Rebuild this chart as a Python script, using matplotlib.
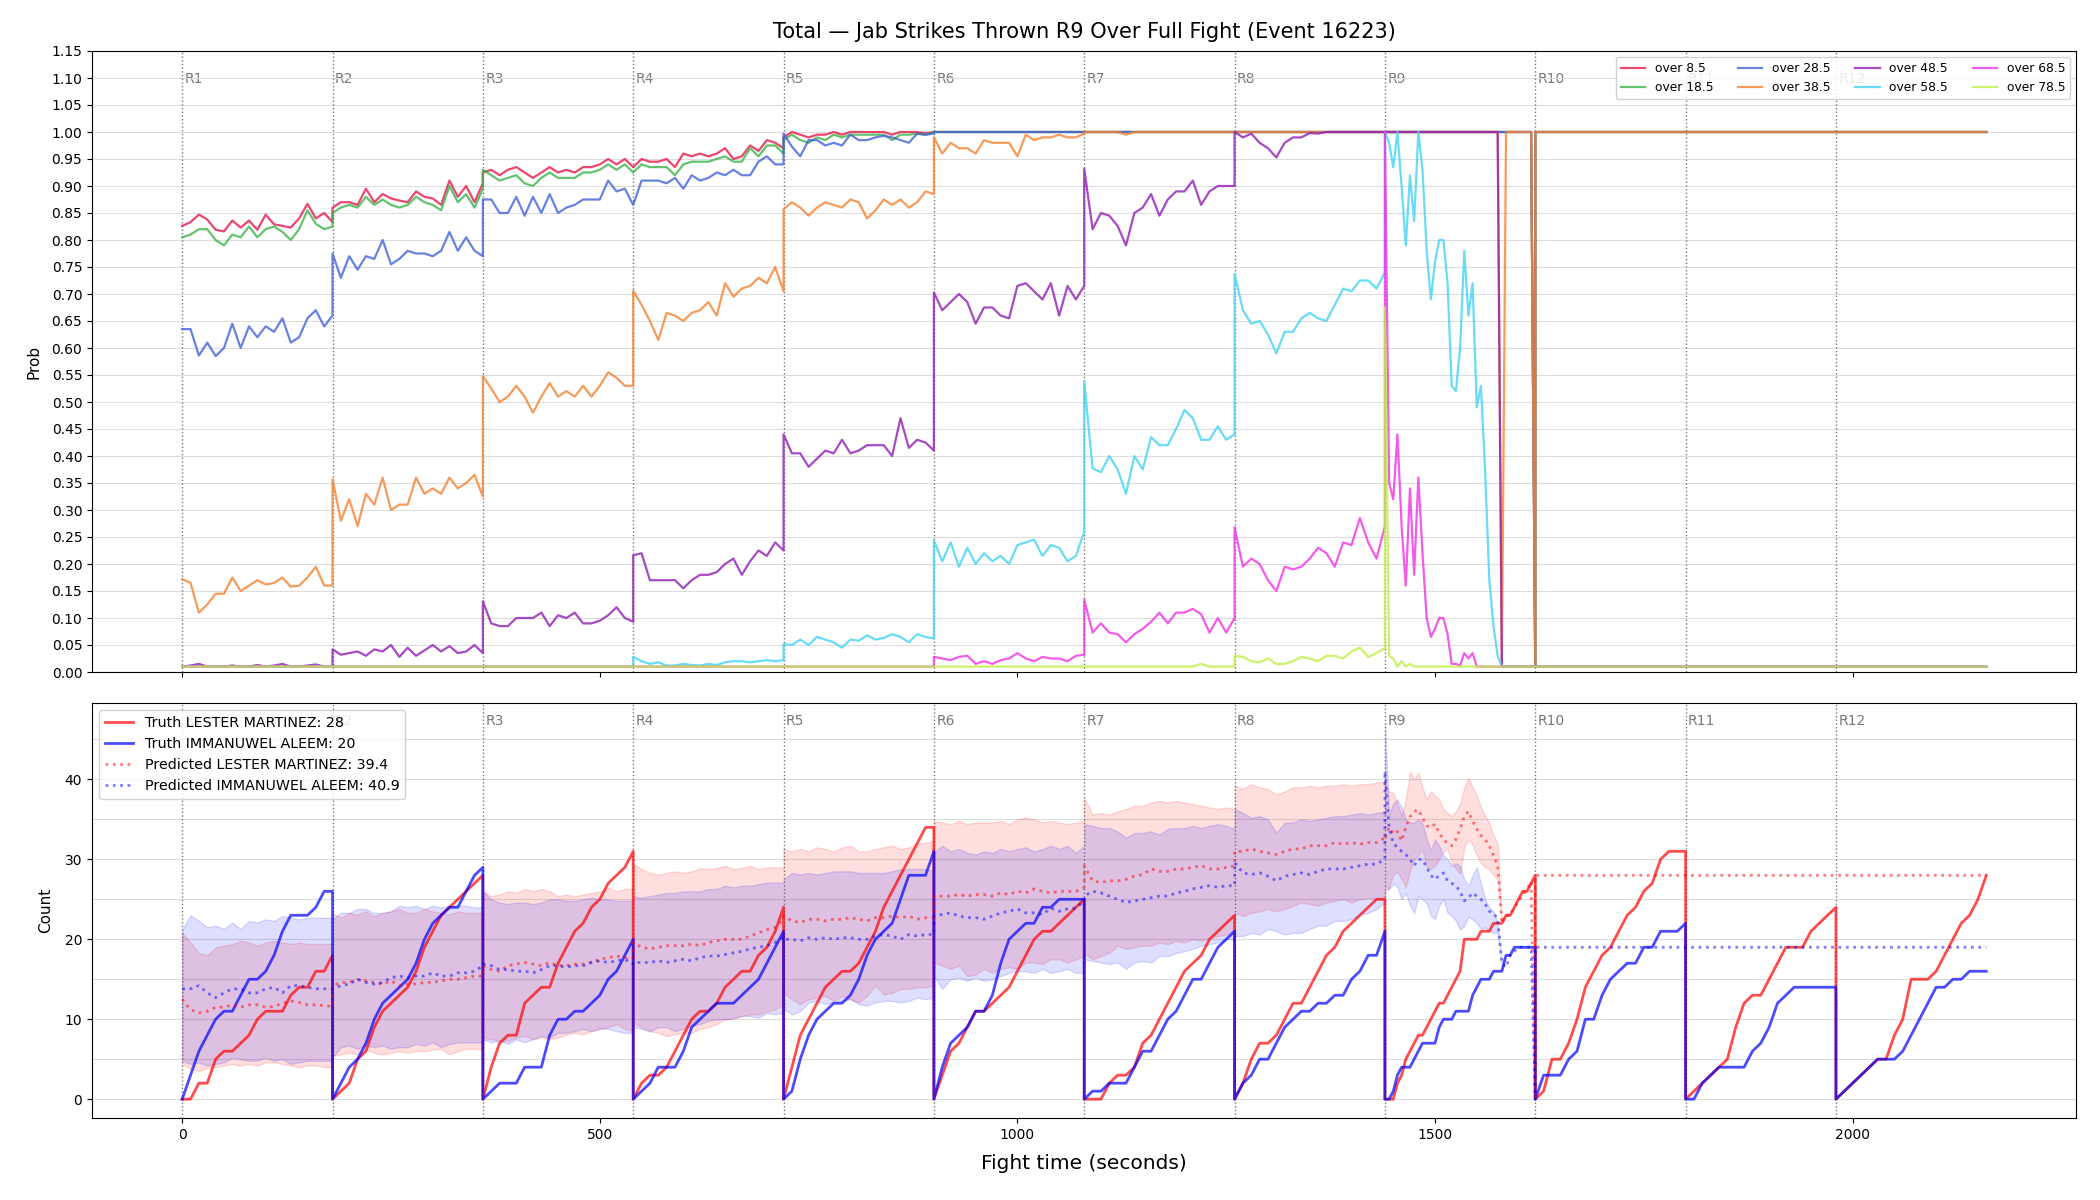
import numpy as np
import matplotlib
matplotlib.use("Agg")
import matplotlib.pyplot as plt
from matplotlib.ticker import MultipleLocator, FormatStrFormatter

NAN = float("nan")
ROUND_LEN = 180
round_names = ["R1", "R2", "R3", "R4", "R5", "R6", "R7", "R8", "R9", "R10", "R11", "R12"]
# sampling step (s) per round: R9 is read at a finer step
round_steps = [10, 10, 10, 10, 10, 10, 10, 10, 5, 10, 10, 10]

line_labels = ["over 8.5", "over 18.5", "over 28.5", "over 38.5",
               "over 48.5", "over 58.5", "over 68.5", "over 78.5"]
line_colors = ["#e6194B", "#3cb44b", "#4363d8", "#f58231",
               "#911eb4", "#42d4f4", "#f032e6", "#bfef45"]

ONE = [1.0] * 19
LOW = [0.01] * 19

p085 = [
    [0.826, 0.833, 0.847, 0.838, 0.819, 0.816, 0.836, 0.823, 0.836, 0.819, 0.847, 0.829, 0.826, 0.823, 0.840, 0.867, 0.840, 0.850, 0.833],
    [0.86, 0.87, 0.87, 0.865, 0.895, 0.87, 0.885, 0.877, 0.873, 0.87, 0.89, 0.88, 0.877, 0.865, 0.91, 0.88, 0.90, 0.87, 0.905],
    [0.925, 0.93, 0.92, 0.93, 0.935, 0.925, 0.915, 0.925, 0.935, 0.925, 0.93, 0.925, 0.935, 0.935, 0.94, 0.95, 0.94, 0.95, 0.935],
    [0.935, 0.95, 0.945, 0.945, 0.95, 0.935, 0.96, 0.955, 0.96, 0.955, 0.96, 0.97, 0.95, 0.955, 0.975, 0.965, 0.985, 0.98, 0.97],
    [0.99, 1.0, 0.995, 0.99, 0.995, 0.995, 1.0, 0.995, 1.0, 1.0, 1.0, 1.0, 1.0, 0.995, 1.0, 1.0, 1.0, 0.998, 1.0],
    ONE, ONE, ONE,
    [1.0] * 36 + [0.01],
    ONE, ONE, ONE,
]
p185 = [
    [0.805, 0.81, 0.82, 0.82, 0.80, 0.79, 0.81, 0.805, 0.825, 0.805, 0.82, 0.825, 0.815, 0.80, 0.82, 0.855, 0.83, 0.82, 0.825],
    [0.85, 0.86, 0.865, 0.86, 0.88, 0.865, 0.875, 0.865, 0.86, 0.865, 0.88, 0.87, 0.865, 0.855, 0.90, 0.87, 0.885, 0.86, 0.895],
    [0.93, 0.92, 0.91, 0.915, 0.92, 0.905, 0.90, 0.915, 0.925, 0.915, 0.915, 0.915, 0.925, 0.925, 0.93, 0.94, 0.93, 0.94, 0.925],
    [0.925, 0.94, 0.935, 0.935, 0.935, 0.92, 0.94, 0.945, 0.945, 0.945, 0.95, 0.955, 0.945, 0.945, 0.97, 0.955, 0.975, 0.975, 0.96],
    [0.985, 0.995, 0.985, 0.98, 0.99, 0.985, 0.995, 0.99, 0.995, 0.995, 0.995, 0.995, 0.995, 0.985, 0.995, 0.995, 0.997, 0.995, 1.0],
    ONE, ONE, ONE,
    [1.0] * 36 + [0.01],
    ONE, ONE, ONE,
]
p285 = [
    [0.635, 0.635, 0.586, 0.61, 0.585, 0.60, 0.645, 0.60, 0.64, 0.62, 0.64, 0.63, 0.655, 0.61, 0.62, 0.655, 0.67, 0.64, 0.66],
    [0.775, 0.73, 0.77, 0.745, 0.77, 0.765, 0.80, 0.755, 0.765, 0.78, 0.775, 0.775, 0.77, 0.78, 0.815, 0.78, 0.805, 0.78, 0.77],
    [0.875, 0.875, 0.85, 0.85, 0.88, 0.845, 0.88, 0.85, 0.885, 0.85, 0.86, 0.865, 0.875, 0.875, 0.875, 0.91, 0.89, 0.895, 0.865],
    [0.865, 0.91, 0.91, 0.91, 0.905, 0.915, 0.895, 0.92, 0.91, 0.915, 0.925, 0.92, 0.93, 0.92, 0.92, 0.945, 0.955, 0.94, 0.94],
    [0.997, 0.973, 0.955, 0.985, 0.985, 0.975, 0.98, 0.975, 0.995, 0.985, 0.985, 0.99, 0.993, 0.99, 0.985, 0.98, 0.997, 0.995, 0.997],
    ONE, ONE, ONE,
    [1.0] * 36 + [0.01],
    ONE, ONE, ONE,
]
p385 = [
    [0.172, 0.165, 0.11, 0.125, 0.145, 0.145, 0.175, 0.15, 0.16, 0.17, 0.162, 0.165, 0.175, 0.158, 0.16, 0.175, 0.195, 0.16, 0.16],
    [0.357, 0.28, 0.32, 0.27, 0.33, 0.31, 0.36, 0.30, 0.31, 0.31, 0.36, 0.33, 0.34, 0.33, 0.36, 0.34, 0.35, 0.365, 0.325],
    [0.548, 0.525, 0.50, 0.51, 0.53, 0.51, 0.48, 0.51, 0.535, 0.51, 0.52, 0.51, 0.53, 0.51, 0.53, 0.555, 0.545, 0.53, 0.53],
    [0.706, 0.68, 0.65, 0.615, 0.665, 0.66, 0.65, 0.665, 0.67, 0.685, 0.66, 0.72, 0.695, 0.71, 0.715, 0.73, 0.72, 0.75, 0.705],
    [0.857, 0.87, 0.86, 0.845, 0.86, 0.87, 0.865, 0.86, 0.875, 0.87, 0.84, 0.855, 0.875, 0.865, 0.875, 0.86, 0.87, 0.89, 0.885],
    [0.99, 0.96, 0.98, 0.97, 0.97, 0.96, 0.985, 0.98, 0.98, 0.98, 0.955, 0.995, 0.985, 0.99, 0.99, 0.995, 0.99, 0.99, 0.997],
    [1.0, 1.0, 1.0, 1.0, 1.0, 0.995, 1.0, 1.0, 1.0, 1.0, 1.0, 1.0, 1.0, 1.0, 1.0, 1.0, 1.0, 1.0, 1.0],
    ONE,
    [1.0] * 28 + [0.01] + [1.0] * 7 + [0.01],
    ONE, ONE, ONE,
]
p485 = [
    [0.01, 0.012, 0.015, 0.01, 0.01, 0.01, 0.012, 0.01, 0.01, 0.013, 0.01, 0.012, 0.015, 0.01, 0.01, 0.012, 0.014, 0.01, 0.01],
    [0.042, 0.032, 0.035, 0.038, 0.03, 0.042, 0.038, 0.05, 0.028, 0.045, 0.03, 0.04, 0.05, 0.038, 0.048, 0.035, 0.038, 0.05, 0.035],
    [0.131, 0.09, 0.085, 0.085, 0.10, 0.10, 0.10, 0.11, 0.085, 0.105, 0.10, 0.11, 0.09, 0.09, 0.095, 0.105, 0.12, 0.10, 0.093],
    [0.216, 0.22, 0.17, 0.17, 0.17, 0.17, 0.155, 0.17, 0.18, 0.18, 0.185, 0.20, 0.21, 0.18, 0.205, 0.225, 0.215, 0.24, 0.225],
    [0.44, 0.405, 0.405, 0.38, 0.395, 0.41, 0.405, 0.43, 0.405, 0.41, 0.42, 0.42, 0.42, 0.40, 0.47, 0.415, 0.43, 0.425, 0.41],
    [0.703, 0.67, 0.685, 0.70, 0.685, 0.645, 0.675, 0.675, 0.66, 0.655, 0.715, 0.72, 0.705, 0.69, 0.72, 0.66, 0.715, 0.69, 0.715],
    [0.932, 0.82, 0.85, 0.845, 0.826, 0.79, 0.85, 0.86, 0.885, 0.845, 0.875, 0.89, 0.89, 0.91, 0.865, 0.89, 0.90, 0.90, 0.90],
    [1.0, 0.99, 0.997, 0.98, 0.97, 0.953, 0.98, 0.99, 0.99, 0.998, 0.997, 1.0, 1.0, 1.0, 1.0, 1.0, 1.0, 1.0, 1.0],
    [1.0] * 28 + [0.01] * 9,
    LOW, LOW, LOW,
]
p585 = [
    LOW, LOW, LOW,
    [0.028, 0.02, 0.015, 0.018, 0.012, 0.012, 0.015, 0.013, 0.012, 0.015, 0.013, 0.018, 0.02, 0.02, 0.018, 0.02, 0.022, 0.02, 0.022],
    [0.052, 0.05, 0.06, 0.05, 0.065, 0.06, 0.055, 0.045, 0.06, 0.058, 0.068, 0.06, 0.063, 0.07, 0.065, 0.055, 0.07, 0.065, 0.062],
    [0.244, 0.205, 0.24, 0.195, 0.23, 0.20, 0.22, 0.205, 0.215, 0.20, 0.235, 0.24, 0.245, 0.215, 0.235, 0.23, 0.205, 0.215, 0.26],
    [0.538, 0.377, 0.37, 0.40, 0.375, 0.33, 0.40, 0.375, 0.435, 0.42, 0.42, 0.45, 0.485, 0.47, 0.43, 0.43, 0.455, 0.43, 0.44],
    [0.737, 0.67, 0.645, 0.65, 0.625, 0.59, 0.63, 0.63, 0.655, 0.665, 0.655, 0.65, 0.68, 0.71, 0.705, 0.725, 0.725, 0.71, 0.74],
    [1.0, 0.98, 0.935, 1.0, 0.90, 0.79, 0.92, 0.835, 1.0, 0.93, 0.78, 0.69, 0.76, 0.80, 0.80, 0.72, 0.53, 0.52, 0.60, 0.78,
     0.66, 0.72, 0.49, 0.53, 0.37, 0.17, 0.085, 0.03, 0.01] + [0.01] * 8,
    LOW, LOW, LOW,
]
p685 = [
    LOW, LOW, LOW, LOW, LOW,
    [0.028, 0.025, 0.022, 0.028, 0.03, 0.015, 0.02, 0.015, 0.022, 0.025, 0.035, 0.025, 0.02, 0.028, 0.025, 0.025, 0.02, 0.03, 0.032],
    [0.134, 0.073, 0.09, 0.073, 0.07, 0.055, 0.07, 0.08, 0.093, 0.11, 0.09, 0.11, 0.11, 0.117, 0.107, 0.073, 0.10, 0.073, 0.10],
    [0.268, 0.195, 0.21, 0.20, 0.17, 0.15, 0.195, 0.19, 0.195, 0.21, 0.23, 0.22, 0.195, 0.24, 0.235, 0.285, 0.24, 0.21, 0.27],
    [1.0, 0.35, 0.32, 0.44, 0.27, 0.16, 0.34, 0.18, 0.36, 0.22, 0.10, 0.065, 0.08, 0.10, 0.10, 0.07, 0.015, 0.015, 0.012, 0.035,
     0.025, 0.035, 0.01] + [0.01] * 14,
    LOW, LOW, LOW,
]
p785 = [
    LOW, LOW, LOW, LOW, LOW, LOW,
    [0.01] * 14 + [0.015] + [0.01] * 4,
    [0.03, 0.028, 0.02, 0.018, 0.025, 0.015, 0.015, 0.02, 0.028, 0.025, 0.02, 0.03, 0.03, 0.025, 0.038, 0.045, 0.028, 0.035, 0.045],
    [0.675, 0.03, 0.025, 0.01, 0.02, 0.01, 0.015] + [0.01] * 30,
    LOW, LOW, LOW,
]
prob_series = [p085, p185, p285, p385, p485, p585, p685, p785]

# ---- counts panel ----
truth_names = ["LESTER MARTINEZ", "IMMANUWEL ALEEM"]
truth_final = [28, 20]
pred_final = [39.4, 40.9]

truth_lm = [
    [0, 0, 2, 2, 5, 6, 6, 7, 8, 10, 11, 11, 11, 13, 14, 14, 16, 16, 18],
    [0, 1, 2, 5, 6, 9, 11, 12, 13, 14, 16, 19, 21, 23, 24, 25, 26, 27, 28],
    [0, 4, 7, 8, 8, 12, 13, 14, 14, 17, 19, 21, 22, 24, 25, 27, 28, 29, 31],
    [0, 2, 3, 3, 4, 6, 8, 10, 11, 11, 12, 14, 15, 16, 16, 18, 19, 21, 24],
    [0, 4, 8, 10, 12, 14, 15, 16, 16, 17, 19, 21, 24, 26, 28, 30, 32, 34, 34],
    [0, 3, 6, 7, 9, 11, 11, 12, 13, 14, 16, 18, 20, 21, 21, 22, 23, 24, 25],
    [0, 0, 0, 2, 3, 3, 4, 7, 8, 10, 12, 14, 16, 17, 18, 20, 21, 22, 23],
    [0, 2, 5, 7, 7, 8, 10, 12, 12, 14, 16, 18, 19, 21, 22, 23, 24, 25, 25],
    [0, 0, 0, 2, 3, 5, 6, 7, 8, 8, 9, 10, 11, 12, 12, 13, 14, 15, 16, 20,
     20, 20, 20, 21, 21, 21, 22, 22, 22, 23, 23, 24, 25, 26, 26, 27, 28],
    [0, 1, 5, 5, 7, 10, 14, 16, 18, 19, 21, 23, 24, 26, 27, 30, 31, 31, 31],
    [0, 1, 2, 3, 4, 5, 9, 12, 13, 13, 15, 17, 19, 19, 19, 21, 22, 23, 24],
    [0, 1, 2, 3, 4, 5, 5, 8, 10, 15, 15, 15, 16, 18, 20, 22, 23, 25, 28],
]
truth_ia = [
    [0, 3, 6, 8, 10, 11, 11, 13, 15, 15, 16, 18, 21, 23, 23, 23, 24, 26, 26],
    [0, 2, 4, 5, 7, 10, 12, 13, 14, 15, 17, 20, 22, 23, 24, 24, 26, 28, 29],
    [0, 1, 2, 2, 2, 4, 4, 4, 8, 10, 10, 11, 11, 12, 13, 15, 16, 18, 20],
    [0, 1, 2, 4, 4, 4, 6, 9, 10, 11, 12, 12, 12, 13, 14, 15, 17, 19, 21],
    [0, 1, 5, 8, 10, 11, 12, 12, 13, 15, 18, 20, 21, 22, 25, 28, 28, 28, 31],
    [0, 4, 7, 8, 9, 11, 11, 13, 17, 20, 21, 22, 22, 24, 24, 25, 25, 25, 25],
    [0, 1, 1, 2, 2, 2, 4, 6, 6, 8, 10, 11, 13, 15, 15, 17, 19, 20, 21],
    [0, 2, 3, 5, 5, 7, 9, 10, 11, 11, 12, 12, 13, 13, 15, 16, 18, 18, 21],
    [0, 0, 1, 3, 4, 4, 4, 5, 6, 7, 7, 7, 7, 9, 10, 10, 10, 11, 11, 11,
     11, 13, 14, 15, 15, 15, 16, 16, 16, 18, 18, 19, 19, 19, 19, 19, 19],
    [0, 3, 3, 3, 5, 6, 10, 10, 13, 15, 16, 17, 17, 19, 19, 21, 21, 21, 22],
    [0, 0, 2, 3, 4, 4, 4, 4, 6, 7, 9, 12, 13, 14, 14, 14, 14, 14, 14],
    [0, 1, 2, 3, 4, 5, 5, 5, 6, 8, 10, 12, 14, 14, 15, 15, 16, 16, 16],
]
pred_lm = [
    [12.5, 11.2, 10.8, 11.0, 11.5, 11.5, 11.8, 11.5, 11.8, 11.8, 11.5, 11.6, 12.0, 12.3, 12.1, 11.8, 11.8, 11.7, 11.6],
    [14.2, 14.6, 14.6, 15.0, 14.8, 14.6, 14.4, 14.8, 14.2, 14.4, 14.4, 14.6, 14.6, 14.8, 15.0, 15.0, 15.2, 15.4, 15.4],
    [16.7, 16.2, 16.0, 16.7, 16.9, 17.1, 16.9, 16.7, 17.1, 16.7, 16.7, 16.9, 16.9, 17.1, 17.5, 17.7, 17.9, 17.7, 17.7],
    [19.6, 19.0, 18.8, 19.0, 19.2, 19.2, 19.2, 19.4, 19.2, 19.6, 19.8, 20.0, 20.0, 20.0, 20.4, 20.8, 21.2, 21.5, 22.5],
    [22.9, 22.3, 22.1, 22.5, 22.5, 22.3, 22.5, 22.5, 22.7, 22.5, 22.3, 22.7, 22.7, 22.9, 22.7, 22.9, 22.5, 22.7, 22.7],
    [25.4, 25.4, 25.4, 25.6, 25.4, 25.6, 25.6, 25.4, 25.8, 25.6, 26.0, 25.8, 26.3, 26.0, 25.8, 26.0, 26.0, 26.0, 26.5],
    [29.2, 27.3, 27.1, 27.3, 27.3, 27.5, 27.9, 28.1, 28.8, 28.5, 28.5, 28.8, 28.8, 29.0, 29.2, 28.8, 28.8, 29.0, 29.2],
    [31.0, 31.0, 31.3, 31.0, 30.8, 30.6, 31.0, 31.3, 31.3, 31.7, 31.7, 31.7, 32.1, 31.9, 32.1, 31.9, 32.1, 32.1, 32.7],
    [32.5, 34.0, 33.2, 33.5, 32.3, 34.0, 35.3, 36.0, 36.2, 35.2, 34.2, 34.0, 34.4, 33.3, 32.5, 32.0, 31.7, 32.5, 33.8, 35.4,
     36.0, 34.8, 33.8, 33.0, 32.5, 31.7, 30.5, 29.2, 22.0, 23.0, 23.0, 24.0, 24.8, 25.5, 26.3, 27.2, 0.0],
    [28.0] * 19, [28.0] * 19, [28.0] * 19,
]
pred_ia = [
    [13.8, 13.8, 14.2, 13.3, 12.7, 13.3, 13.8, 13.8, 13.3, 13.3, 13.8, 14.0, 13.3, 14.2, 14.2, 14.0, 13.8, 13.8, 13.8],
    [13.8, 14.2, 14.4, 15.0, 14.6, 14.4, 14.6, 15.2, 15.4, 15.2, 15.4, 15.4, 15.8, 15.4, 15.4, 15.8, 15.8, 16.0, 16.7],
    [16.9, 16.7, 16.2, 16.2, 16.0, 16.0, 15.8, 16.2, 16.7, 16.7, 16.5, 16.7, 16.7, 17.1, 17.3, 17.1, 17.3, 17.5, 16.9],
    [17.1, 17.1, 17.1, 17.3, 17.1, 17.3, 17.5, 17.3, 17.7, 17.9, 17.9, 18.1, 18.3, 18.5, 18.8, 19.0, 19.2, 19.6, 20.2],
    [20.0, 20.0, 19.8, 20.2, 20.0, 20.2, 20.0, 20.2, 20.2, 20.0, 20.0, 20.4, 20.6, 20.4, 20.0, 20.6, 20.4, 20.6, 20.6],
    [22.9, 23.1, 23.3, 22.9, 22.7, 22.7, 22.5, 22.9, 23.3, 23.5, 23.8, 23.3, 23.3, 23.1, 23.9, 23.5, 23.8, 23.9, 24.8],
    [25.4, 26.0, 25.8, 25.4, 25.0, 24.6, 24.8, 25.0, 25.2, 25.4, 25.4, 25.8, 26.0, 26.3, 26.5, 26.7, 26.5, 26.7, 26.7],
    [29.6, 28.3, 28.1, 28.3, 27.9, 27.3, 27.9, 28.1, 28.3, 28.1, 28.5, 28.8, 28.8, 28.8, 29.0, 29.2, 29.4, 29.4, 30.0],
    [41.0, 34.0, 32.0, 31.5, 31.0, 30.6, 30.0, 29.2, 30.0, 30.0, 29.0, 28.0, 27.5, 28.0, 28.3, 27.3, 27.0, 26.7, 26.0, 24.8,
     25.2, 25.8, 25.4, 25.0, 24.4, 23.5, 23.3, 22.5, 17.0, 16.5, 18.0, 18.5, 19.0, 19.0, 19.0, 19.0, 0.0],
    [19.0] * 19, [19.0] * 19, [19.0] * 19,
]
NONE19 = [NAN] * 19
lm_hi = [
    [20.8, 19.6, 18.3, 18.0, 19.0, 19.2, 19.4, 19.8, 19.6, 19.2, 19.6, 19.8, 19.6, 19.4, 19.6, 19.4, 19.4, 19.4, 19.4],
    [23.3, 22.7, 23.3, 23.1, 23.5, 22.9, 23.3, 23.5, 23.8, 23.3, 23.3, 23.8, 23.5, 23.3, 23.1, 23.5, 23.3, 23.3, 23.3],
    [26.0, 25.4, 25.6, 26.0, 25.8, 26.3, 26.0, 26.3, 26.0, 25.4, 25.6, 25.4, 25.6, 25.8, 26.0, 26.5, 26.0, 26.3, 26.3],
    [29.4, 28.8, 28.3, 28.1, 28.3, 28.5, 28.3, 28.5, 28.9, 28.8, 28.9, 29.2, 28.8, 28.9, 29.2, 28.8, 29.0, 29.0, 29.0],
    [31.3, 31.0, 31.3, 31.0, 31.5, 31.3, 31.0, 31.5, 31.7, 31.0, 31.0, 31.3, 31.5, 31.7, 31.3, 31.5, 31.9, 32.1, 32.3],
    [34.8, 34.6, 34.4, 34.8, 34.4, 34.6, 34.6, 34.6, 34.8, 34.4, 35.0, 35.2, 35.0, 34.6, 34.8, 34.6, 34.4, 34.6, 34.8],
    [37.7, 35.6, 35.8, 35.6, 36.0, 36.3, 36.7, 36.7, 37.1, 37.3, 37.1, 37.3, 37.1, 36.9, 36.7, 36.5, 36.3, 36.5, 36.3],
    [39.2, 38.8, 39.4, 39.0, 38.8, 38.1, 38.5, 39.0, 39.0, 39.2, 39.0, 39.2, 39.2, 39.4, 39.2, 39.4, 39.4, 39.6, 39.8],
    [39.6, 38.5, 38.3, 37.0, 35.4, 37.5, 41.0, 40.0, 40.8, 39.0, 37.6, 38.5, 38.0, 37.5, 36.3, 35.8, 35.4, 36.0, 37.0, 39.0,
     40.2, 39.0, 38.0, 36.5, 35.5, 34.5, 33.0, 32.0, 22.0] + [NAN] * 8,
    NONE19, NONE19, NONE19,
]
lm_lo = [
    [4.4, 3.8, 3.5, 3.9, 4.0, 4.2, 4.4, 4.2, 4.4, 4.2, 4.6, 4.6, 4.4, 4.2, 4.0, 4.2, 4.2, 4.0, 4.0],
    [5.4, 5.6, 5.8, 5.6, 6.2, 5.8, 5.6, 5.8, 6.0, 5.8, 6.0, 6.0, 6.2, 6.3, 5.6, 6.0, 6.3, 6.3, 6.2],
    [7.7, 7.5, 7.3, 7.3, 7.7, 7.9, 7.5, 7.7, 7.5, 7.7, 8.1, 8.3, 8.1, 8.5, 8.8, 9.0, 9.4, 8.8, 8.5],
    [9.6, 9.0, 8.5, 8.3, 7.9, 8.1, 8.3, 8.3, 8.8, 9.0, 9.4, 10.0, 10.0, 10.4, 10.6, 10.6, 11.0, 11.2, 11.9],
    [13.3, 12.5, 11.9, 12.5, 12.7, 12.9, 12.3, 12.9, 12.5, 12.1, 12.9, 14.2, 13.1, 13.3, 13.8, 13.8, 14.0, 14.0, 14.2],
    [17.1, 16.7, 16.3, 16.7, 15.4, 15.6, 16.3, 15.8, 16.3, 16.5, 16.3, 17.1, 17.1, 16.9, 17.5, 17.5, 17.1, 17.5, 17.9],
    [18.3, 17.5, 17.9, 18.3, 19.2, 18.8, 19.0, 19.2, 19.2, 19.6, 19.4, 19.8, 19.6, 20.0, 19.8, 20.2, 20.4, 20.6, 21.2],
    [23.3, 22.9, 23.3, 23.5, 23.8, 23.5, 23.8, 24.2, 24.6, 24.4, 24.2, 24.6, 24.8, 25.0, 24.6, 25.0, 25.2, 25.0, 25.2],
    [25.8, 26.5, 28.0, 28.5, 27.5, 26.5, 28.5, 30.0, 30.5, 31.2, 29.0, 28.8, 29.2, 30.0, 31.0, 31.3, 29.5, 28.8, 28.2, 31.5,
     32.5, 31.8, 30.5, 29.5, 29.0, 28.8, 28.0, 27.5, 22.0] + [NAN] * 8,
    NONE19, NONE19, NONE19,
]
ia_hi = [
    [21.2, 23.0, 22.3, 21.5, 21.7, 21.3, 22.1, 21.3, 22.3, 22.1, 22.5, 22.3, 22.9, 22.7, 22.5, 22.7, 22.7, 22.7, 22.7],
    [22.5, 23.3, 23.3, 23.8, 23.8, 23.3, 23.3, 23.5, 24.2, 24.0, 24.2, 23.8, 24.2, 24.0, 24.2, 24.2, 24.2, 24.0, 24.0],
    [26.0, 25.0, 24.6, 24.4, 24.6, 24.6, 24.4, 24.6, 25.0, 25.0, 24.8, 24.8, 25.0, 25.2, 25.0, 25.0, 24.8, 24.8, 24.8],
    [25.4, 25.2, 25.4, 25.6, 25.8, 25.8, 26.0, 26.0, 26.0, 26.3, 26.3, 26.7, 26.5, 26.7, 26.7, 26.9, 27.1, 27.1, 27.1],
    [27.5, 28.3, 28.1, 28.3, 28.1, 28.3, 28.5, 28.5, 28.5, 28.3, 28.3, 28.3, 28.3, 28.5, 28.8, 28.8, 28.8, 28.8, 28.5],
    [30.8, 31.7, 31.0, 31.3, 30.8, 30.6, 31.0, 30.8, 31.3, 31.0, 31.3, 31.5, 31.0, 31.3, 31.7, 31.3, 31.7, 30.8, 31.7],
    [34.4, 34.2, 33.9, 33.9, 33.5, 32.7, 33.3, 33.3, 33.5, 33.1, 33.8, 33.9, 33.9, 34.2, 33.9, 34.2, 34.4, 34.2, 33.8],
    [36.3, 35.8, 35.2, 35.4, 35.0, 33.3, 34.6, 34.6, 35.0, 34.8, 35.0, 35.2, 35.4, 35.4, 35.6, 35.8, 35.6, 35.8, 36.0],
    [47.0, 35.6, 37.0, 37.5, 36.5, 35.0, 34.6, 34.6, 35.0, 34.5, 32.5, 31.2, 32.5, 31.7, 30.5, 30.0, 29.2, 29.5, 29.2, 27.5,
     26.7, 28.0, 29.0, 27.0, 25.0, 24.0, 23.5, 22.0, 17.0] + [NAN] * 8,
    NONE19, NONE19, NONE19,
]
ia_lo = [
    [4.8, 4.4, 4.6, 4.2, 4.4, 4.6, 5.2, 5.0, 4.8, 4.8, 5.2, 4.8, 5.0, 4.4, 4.6, 4.8, 4.8, 4.8, 4.8],
    [5.2, 6.5, 6.7, 6.3, 6.7, 6.5, 6.7, 6.3, 6.5, 6.5, 6.9, 6.7, 7.1, 6.5, 6.9, 7.1, 7.1, 7.1, 7.1],
    [7.5, 7.1, 7.3, 6.9, 7.5, 7.1, 7.5, 7.9, 7.7, 8.3, 8.3, 8.5, 8.8, 8.5, 8.8, 8.8, 8.5, 8.3, 8.3],
    [9.0, 8.8, 8.5, 9.0, 9.0, 8.5, 8.8, 9.2, 9.4, 9.8, 10.0, 10.0, 10.2, 10.4, 10.4, 10.2, 10.8, 10.6, 10.8],
    [11.3, 10.6, 11.0, 12.1, 12.3, 11.9, 12.1, 12.3, 12.5, 11.9, 11.7, 12.1, 12.3, 12.3, 12.1, 12.3, 12.7, 12.5, 12.7],
    [15.4, 13.8, 15.0, 15.2, 14.8, 15.2, 14.8, 15.0, 15.4, 15.8, 16.0, 16.0, 15.8, 16.3, 15.8, 16.0, 16.3, 15.8, 15.8],
    [17.5, 17.3, 17.1, 16.9, 17.1, 16.3, 17.1, 17.3, 17.1, 17.9, 17.9, 18.3, 18.5, 18.8, 19.2, 19.4, 19.6, 20.0, 20.0],
    [20.4, 20.4, 20.8, 20.6, 21.3, 21.0, 20.6, 20.8, 20.8, 21.3, 21.7, 21.7, 22.3, 22.3, 22.5, 23.1, 23.3, 23.8, 24.6],
    [26.7, 26.2, 27.0, 26.5, 25.0, 25.8, 24.2, 23.3, 25.4, 25.0, 24.5, 23.0, 22.5, 24.2, 25.0, 23.3, 22.9, 22.3, 21.2, 21.7,
     22.8, 22.5, 22.0, 21.3, 21.5, 21.0, 20.8, 20.8, 17.0] + [NAN] * 8,
    NONE19, NONE19, NONE19,
]


def time_axis():
    parts = []
    for r, step in enumerate(round_steps):
        parts.append(r * ROUND_LEN + np.arange(0, ROUND_LEN + 1, step))
    return np.concatenate(parts).astype(float)


def flat(rounds):
    out = []
    for r, vals in enumerate(rounds):
        n = ROUND_LEN // round_steps[r] + 1
        if len(vals) != n:
            raise ValueError(f"round {r+1}: {len(vals)} values, expected {n}")
        out.extend(vals)
    return np.array(out, dtype=float)


t = time_axis()

fig = plt.figure(figsize=(21, 12), dpi=100)
ax1 = fig.add_axes([0.0438, 0.44, 0.945, 0.5175])
ax2 = fig.add_axes([0.0438, 0.0683, 0.945, 0.3459], sharex=ax1)

# ---------------- top: probabilities ----------------
for rounds, lab, col in zip(prob_series, line_labels, line_colors):
    ax1.plot(t, flat(rounds), color=col, lw=1.6, alpha=0.8, label=lab)

ax1.set_ylim(0, 1.15)
ax1.yaxis.set_major_locator(MultipleLocator(0.05))
ax1.yaxis.set_major_formatter(FormatStrFormatter("%.2f"))
ax1.grid(axis="y", color="#dddddd", lw=0.8)
ax1.set_axisbelow(True)
ax1.set_ylabel("Prob", fontsize=11, labelpad=7)
ax1.tick_params(axis="x", labelbottom=False)
ax1.set_title("Total \u2014 Jab Strikes Thrown R9 Over Full Fight (Event 16223)",
              fontsize=15, pad=9)
ax1.legend(loc="upper right", ncol=4, fontsize=8.8, framealpha=0.85)

# ---------------- bottom: counts ----------------
ax2.fill_between(t, flat(lm_lo), flat(lm_hi), color="red", alpha=0.13, lw=1)
ax2.fill_between(t, flat(ia_lo), flat(ia_hi), color="blue", alpha=0.13, lw=1)
ax2.plot(t, flat(truth_lm), color="red", lw=2, alpha=0.7,
         label=f"Truth {truth_names[0]}: {truth_final[0]}")
ax2.plot(t, flat(truth_ia), color="blue", lw=2, alpha=0.7,
         label=f"Truth {truth_names[1]}: {truth_final[1]}")
ax2.plot(t, flat(pred_lm), color="red", lw=2, ls=":", alpha=0.5,
         label=f"Predicted {truth_names[0]}: {pred_final[0]}")
ax2.plot(t, flat(pred_ia), color="blue", lw=2, ls=":", alpha=0.5,
         label=f"Predicted {truth_names[1]}: {pred_final[1]}")

ax2.set_ylim(-2.36, 49.56)
ax2.yaxis.set_major_locator(MultipleLocator(10))
ax2.yaxis.set_minor_locator(MultipleLocator(5))
ax2.tick_params(axis="y", which="minor", length=0)
ax2.grid(axis="y", which="both", color="#dddddd", lw=0.8)
ax2.set_axisbelow(True)
ax2.set_ylabel("Count", fontsize=11, labelpad=8)
ax2.set_xlabel("Fight time (seconds)", fontsize=14.5, labelpad=9)
ax2.legend(loc="upper left", fontsize=10.3, framealpha=0.85)

ax1.set_xlim(-108, 2268)
ax2.xaxis.set_major_locator(MultipleLocator(500))

for ax in (ax1, ax2):
    y0, y1 = ax.get_ylim()
    for r, name in enumerate(round_names):
        x = r * ROUND_LEN
        ax.axvline(x, color="#555555", ls=":", lw=1, alpha=0.8, zorder=1)
        ax.text(x + 3, y1 * 0.955, name, color="#777777", fontsize=10,
                ha="left", va="center", zorder=0)

fig.savefig("out.png", dpi=100)
